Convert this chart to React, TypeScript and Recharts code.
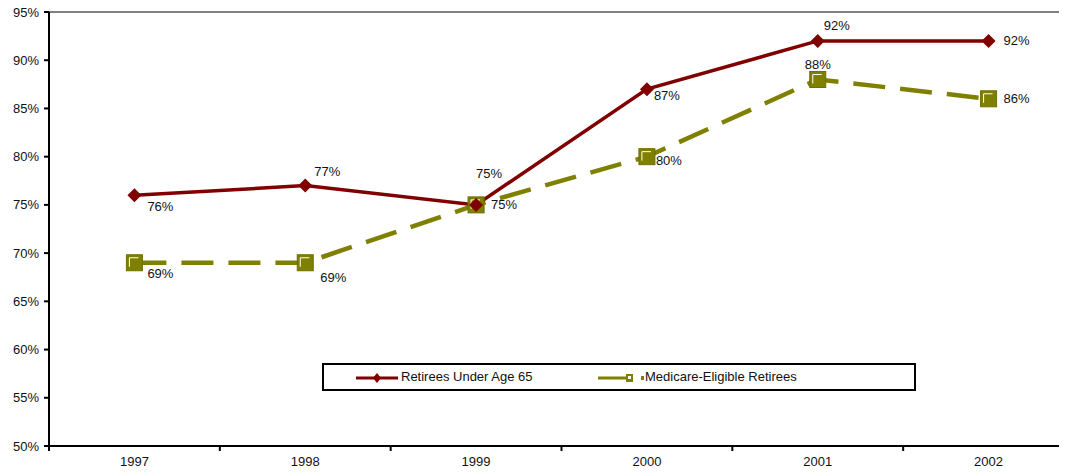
import { LineChart, Line, XAxis, YAxis, ReferenceLine } from 'recharts'

const years = ['1997', '1998', '1999', '2000', '2001', '2002']
const underAge65 = [76, 77, 75, 87, 92, 92]
const medicareEligible = [69, 69, 75, 80, 88, 86]
const yTicks = [50, 55, 60, 65, 70, 75, 80, 85, 90, 95]

// label offsets (dx, dy) from each point, as in the original
const underOffsets = [[26, 11], [22, -14], [13, -31], [20, 6], [19, -15], [28, 0]]
const medicareOffsets = [[26, 11], [28, 15], [28, 0], [22, 4], [0, -15], [28, 0]]

const data = years.map((year, i) => ({
  year,
  under: underAge65[i],
  medicare: medicareEligible[i],
}))

const RED = '#800000'
const OLIVE = '#808000'
const FONT = '"Liberation Sans", Arial, sans-serif'

const W = 1080
const H = 476
const MARGIN = { top: 12, right: 6, left: 9, bottom: 0 }
const Y_WIDTH = 40
const BAND = (W - MARGIN.left - MARGIN.right - Y_WIDTH) / years.length

function Diamond({ cx, cy }: any) {
  if (cx == null) return null
  const r = 7
  return <path d={`M${cx},${cy - r}L${cx + r},${cy}L${cx},${cy + r}L${cx - r},${cy}Z`} fill={RED} />
}

function Square({ cx, cy }: any) {
  if (cx == null) return null
  const s = 8
  return (
    <g>
      <rect x={cx - s} y={cy - s} width={s * 2} height={s * 2} fill={OLIVE} stroke="#6e6e00" strokeWidth={1} />
      <polyline points={`${cx - s + 3},${cy + s - 4} ${cx - s + 3},${cy - s + 3} ${cx + s - 4},${cy - s + 3}`} fill="none" stroke="#ffffff" strokeWidth={1} />
    </g>
  )
}

function makeLabel(offsets: number[][]) {
  return ({ x, y, value, index }: any) => {
    const [dx, dy] = offsets[index]
    return (
      <text x={x + dx} y={y + dy} textAnchor="middle" dominantBaseline="central" fontSize={13} fontFamily={FONT} fill="#111">
        {value}%
      </text>
    )
  }
}

function XTick({ x, y, payload, index }: any) {
  const left = x - BAND / 2
  return (
    <g>
      <line x1={left} y1={y - 8} x2={left} y2={y - 3} stroke="#000" strokeWidth={2} />
      {index === years.length - 1 && (
        <line x1={x + BAND / 2} y1={y - 8} x2={x + BAND / 2} y2={y - 3} stroke="#000" strokeWidth={2} />
      )}
      <text x={x} y={y + 12} textAnchor="middle" fontSize={13} fontFamily={FONT} fill="#111">
        {payload.value}
      </text>
    </g>
  )
}

function YTick({ x, y, payload }: any) {
  return (
    <text x={x - 3} y={y} textAnchor="end" dominantBaseline="central" fontSize={13} fontFamily={FONT} fill="#111">
      {payload.value}%
    </text>
  )
}

function LegendBox() {
  return (
    <div style={{ position: 'absolute', left: 322, top: 363, width: 590, height: 24, border: '2px solid #000', background: '#fff', fontFamily: FONT, fontSize: 13, color: '#111' }}>
      <svg width={590} height={24} style={{ position: 'absolute', left: 0, top: 0 }}>
        <line x1={32} y1={13} x2={74} y2={13} stroke={RED} strokeWidth={3} />
        <path d="M53,8L57,13L53,18L49,13Z" fill={RED} />
        <line x1={274} y1={13} x2={306} y2={13} stroke={OLIVE} strokeWidth={3} />
        <rect x={302} y={9} width={7} height={8} fill={OLIVE} />
        <rect x={304} y={11} width={3} height={3} fill="#fff" />
        <rect x={317} y={11} width={3} height={4} fill={OLIVE} />
      </svg>
      <span style={{ position: 'absolute', left: 77, top: 4 }}>Retirees Under Age 65</span>
      <span style={{ position: 'absolute', left: 321, top: 4 }}>Medicare-Eligible Retirees</span>
    </div>
  )
}

export default function App() {
  return (
    <div style={{ margin: -8, width: 1067, height: H, overflow: 'hidden', background: '#fff', position: 'relative' }}>
      <LineChart width={W} height={H} data={data} margin={MARGIN} style={{ overflow: 'visible' }}>
        <XAxis
          dataKey="year"
          scale="band"
          height={30}
          axisLine={{ stroke: '#000', strokeWidth: 2 }}
          tickLine={false}
          tick={<XTick />}
          interval={0}
        />
        <YAxis
          domain={[50, 95]}
          ticks={yTicks}
          width={Y_WIDTH}
          axisLine={{ stroke: '#000', strokeWidth: 2 }}
          tickLine={{ stroke: '#000', strokeWidth: 2 }}
          tickSize={5}
          tick={<YTick />}
        />
        <ReferenceLine y={95} stroke="#808080" strokeWidth={2} />
        <Line
          dataKey="medicare"
          stroke={OLIVE}
          strokeWidth={4.5}
          strokeDasharray="32 15"
          dot={<Square />}
          label={makeLabel(medicareOffsets)}
          isAnimationActive={false}
        />
        <Line
          dataKey="under"
          stroke={RED}
          strokeWidth={3.5}
          dot={<Diamond />}
          label={makeLabel(underOffsets)}
          isAnimationActive={false}
        />
      </LineChart>
      <LegendBox />
    </div>
  )
}
